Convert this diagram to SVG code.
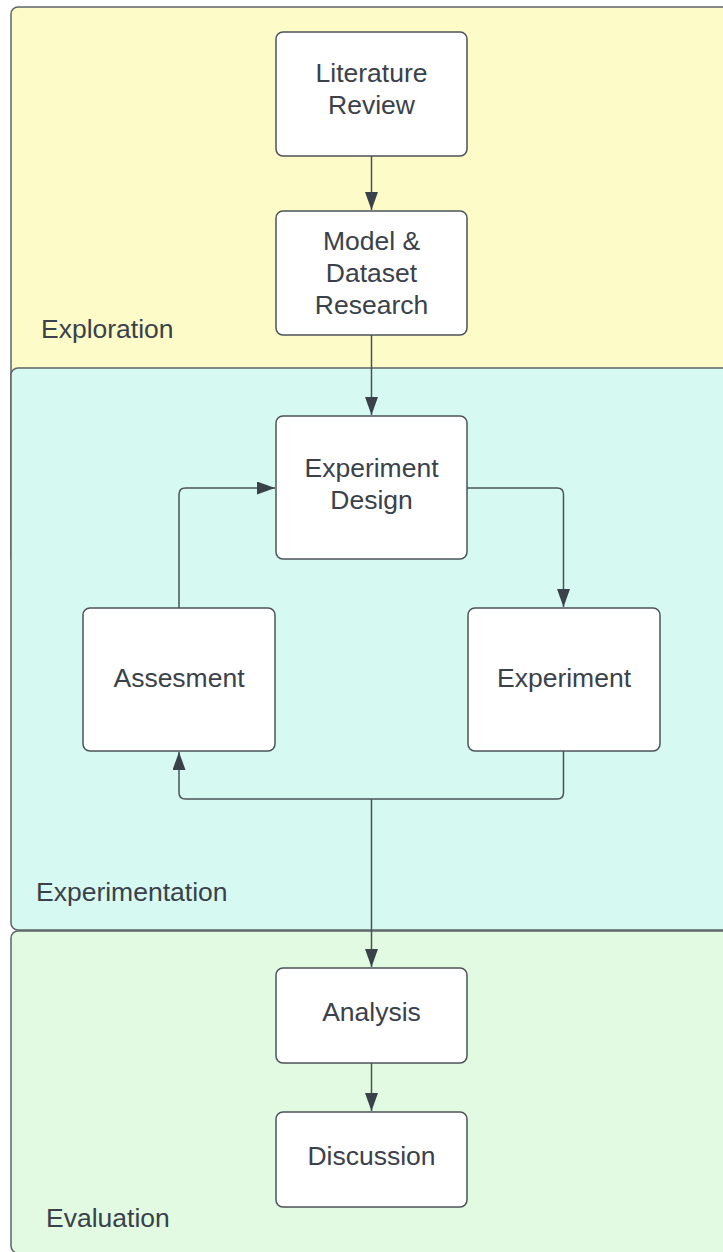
<svg xmlns="http://www.w3.org/2000/svg" width="723" height="1252" viewBox="0 0 723 1252">
  <defs>
    <marker id="arrow" viewBox="0 0 18 13" refX="18" refY="6.5" markerWidth="18" markerHeight="13" markerUnits="userSpaceOnUse" orient="auto">
      <path d="M0,0 L18,6.5 L0,13 Z" fill="#3a414a"/>
    </marker>
    <style>
      .lane { stroke: #5c6468; stroke-width: 1.5; }
      .node rect { fill: #ffffff; stroke: #4b5358; stroke-width: 1.5; }
      text { font-family: "Liberation Sans", Arial, sans-serif; font-size: 26.5px; fill: #3a414a; }
      .center { text-anchor: middle; }
      .conn { fill: none; stroke: #4b5358; stroke-width: 1.5; }
    </style>
  </defs>

  <!-- swimlanes -->
  <g id="lane-exploration">
    <rect class="lane" x="11" y="7" width="730" height="558" rx="7" fill="#fdfbc8"/>
    <text x="41" y="338">Exploration</text>
  </g>
  <g id="lane-experimentation">
    <rect class="lane" x="11" y="368" width="730" height="562" rx="7" fill="#d6f9f2"/>
    <text x="36" y="901">Experimentation</text>
  </g>
  <g id="lane-evaluation">
    <rect class="lane" x="11" y="931" width="730" height="322" rx="7" fill="#e2fae2"/>
    <text x="46" y="1227">Evaluation</text>
  </g>

  <!-- connectors -->
  <g id="connectors">
    <path class="conn" d="M371.5,156 L371.5,210" marker-end="url(#arrow)"/>
    <path class="conn" d="M371.5,335 L371.5,415" marker-end="url(#arrow)"/>
    <path class="conn" d="M467,488 L557,488 Q563.5,488 563.5,494.5 L563.5,607" marker-end="url(#arrow)"/>
    <path class="conn" d="M179,608 L179,494.5 Q179,488 185.5,488 L275,488" marker-end="url(#arrow)"/>
    <path class="conn" d="M563.5,751 L563.5,792.5 Q563.5,799 557,799 L185.5,799 Q179,799 179,792.5 L179,752" marker-end="url(#arrow)"/>
    <path class="conn" d="M371.5,799 L371.5,967" marker-end="url(#arrow)"/>
    <path class="conn" d="M371.5,1063 L371.5,1111" marker-end="url(#arrow)"/>
  </g>

  <!-- process steps -->
  <g id="literature-review" class="node">
    <rect x="276" y="32" width="191" height="124" rx="7"/>
    <text class="center" x="371.5" y="82">Literature</text>
    <text class="center" x="371.5" y="114">Review</text>
  </g>
  <g id="model-dataset-research" class="node">
    <rect x="276" y="211" width="191" height="124" rx="7"/>
    <text class="center" x="371.5" y="250">Model &amp;</text>
    <text class="center" x="371.5" y="282">Dataset</text>
    <text class="center" x="371.5" y="314">Research</text>
  </g>
  <g id="experiment-design" class="node">
    <rect x="276" y="416" width="191" height="143" rx="7"/>
    <text class="center" x="371.5" y="477">Experiment</text>
    <text class="center" x="371.5" y="509">Design</text>
  </g>
  <g id="assesment" class="node">
    <rect x="83" y="608" width="192" height="143" rx="7"/>
    <text class="center" x="179" y="687">Assesment</text>
  </g>
  <g id="experiment" class="node">
    <rect x="468" y="608" width="192" height="143" rx="7"/>
    <text class="center" x="564" y="687">Experiment</text>
  </g>
  <g id="analysis" class="node">
    <rect x="276" y="968" width="191" height="95" rx="7"/>
    <text class="center" x="371.5" y="1021">Analysis</text>
  </g>
  <g id="discussion" class="node">
    <rect x="276" y="1112" width="191" height="95" rx="7"/>
    <text class="center" x="371.5" y="1165">Discussion</text>
  </g>
</svg>
